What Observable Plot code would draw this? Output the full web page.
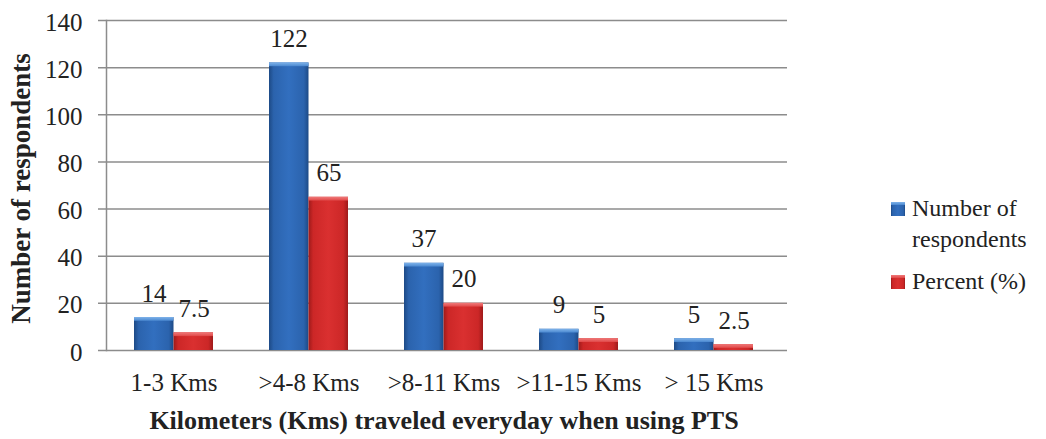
<!DOCTYPE html>
<html><head><meta charset="utf-8">
<script src="https://cdn.jsdelivr.net/npm/d3@7"></script>
<script src="https://cdn.jsdelivr.net/npm/@observablehq/plot@0.6"></script>
<style>
body{margin:0;background:#fff;}
#wrap{position:relative;width:1046px;height:439px;overflow:hidden;}
#legend{position:absolute;left:891px;top:193px;font-family:"Liberation Serif",serif;font-size:24px;color:#222;line-height:31px;}
.li{position:relative;padding-left:21px;}
.sw{position:absolute;left:0;top:9px;width:14px;height:14px;}
</style></head><body><div id="wrap"></div>
<script>
const categories = ["1-3 Kms", ">4-8 Kms", ">8-11 Kms", ">11-15 Kms", "> 15 Kms"];
const respondents = [14, 122, 37, 9, 5];
const percent = [7.5, 65, 20, 5, 2.5];
const yTicks = [0, 20, 40, 60, 80, 100, 120, 140];
const seriesNames = ["Number of respondents", "Percent (%)"];
const xTitle = "Kilometers (Kms) traveled everyday when using PTS";
const yTitle = "Number of respondents";

const rows = categories.map((c, i) => ({category: c, respondents: respondents[i], percent: percent[i]}));
const font = '"Liberation Serif", serif';

const plot = Plot.plot({
  width: 1046, height: 439,
  marginLeft: 106, marginRight: 265, marginTop: 20, marginBottom: 89,
  style: {fontFamily: font, fontSize: "25px", color: "#222", background: "white", overflow: "visible"},
  x: {domain: categories, paddingInner: 0.415, paddingOuter: 0.2075},
  y: {domain: [0, 140]},
  marks: [
    Plot.ruleY(yTicks, {stroke: "#8c8c8c", strokeWidth: 1.5, insetLeft: -8, insetRight: -6}),
    Plot.frame({anchor: "left", stroke: "#8c8c8c", strokeWidth: 1.5}),
    Plot.axisX({tickSize: 0, tickPadding: 23, label: null, fontSize: 25, fontFamily: font}),
    Plot.axisY({ticks: yTicks, tickSize: 0, tickPadding: 24, label: null, fontSize: 25, fontFamily: font, dy: 2}),
    Plot.text([xTitle], {frameAnchor: "bottom", dy: 78, fontWeight: "bold", fontSize: 26, lineAnchor: "bottom", fill: "#222", fontFamily: font}),
    Plot.text([yTitle], {frameAnchor: "left", dx: -85, dy: 3, rotate: -90, textAnchor: "middle", lineAnchor: "middle", fontWeight: "bold", fontSize: 27, fill: "#222", fontFamily: font}),
    Plot.barY(rows, {x: "category", y: "respondents", fill: "url(#gBlue)", insetRight: 39.5, insetLeft: 0}),
    Plot.barY(rows, {x: "category", y: "percent", fill: "url(#gRed)", insetLeft: 39.5, insetRight: 0}),
    Plot.barY(rows, {x: "category", y1: "respondents", y2: d => d.respondents - 1.6, fill: "url(#gBlueTop)", insetRight: 39.5}),
    Plot.barY(rows, {x: "category", y1: "percent", y2: d => d.percent - 1.6, fill: "url(#gRedTop)", insetLeft: 39.5}),
    Plot.text(rows, {x: "category", y: "respondents", text: d => String(d.respondents), dx: -20, dy: -16, lineAnchor: "bottom", fill: "#222", fontSize: 25, fontFamily: font}),
    Plot.text(rows, {x: "category", y: "percent", text: d => String(d.percent), dx: 20, dy: -16, lineAnchor: "bottom", fill: "#222", fontSize: 25, fontFamily: font})
  ]
});

const defs = `<defs>
<linearGradient id="gBlue" x1="0" x2="1" y1="0" y2="0">
<stop offset="0" stop-color="#1d4a86"/><stop offset="0.12" stop-color="#2b63ad"/><stop offset="0.5" stop-color="#326fbf"/><stop offset="0.88" stop-color="#2b63ad"/><stop offset="1" stop-color="#1d4a86"/></linearGradient>
<linearGradient id="gRed" x1="0" x2="1" y1="0" y2="0">
<stop offset="0" stop-color="#9e1a1a"/><stop offset="0.12" stop-color="#cc2727"/><stop offset="0.5" stop-color="#da3030"/><stop offset="0.88" stop-color="#cc2727"/><stop offset="1" stop-color="#9e1a1a"/></linearGradient>
<linearGradient id="gBlueTop" x1="0" x2="0" y1="0" y2="1"><stop offset="0" stop-color="#7fb3ea"/><stop offset="1" stop-color="#4a88d0"/></linearGradient>
<linearGradient id="gRedTop" x1="0" x2="0" y1="0" y2="1"><stop offset="0" stop-color="#f07a7a"/><stop offset="1" stop-color="#e04848"/></linearGradient>
</defs>`;
plot.insertAdjacentHTML("afterbegin", defs);

const wrap = document.getElementById("wrap");
wrap.appendChild(plot);

const legend = document.createElement("div");
legend.id = "legend";
legend.innerHTML = `
<div class="li"><svg class="sw" viewBox="0 0 14 14"><rect width="14" height="14" fill="url(#gBlue)"/><rect width="14" height="3" fill="url(#gBlueTop)"/></svg>${seriesNames[0].replace(" respondents", "<br>respondents")}</div>
<div class="li" style="margin-top:11px"><svg class="sw" viewBox="0 0 14 14"><rect width="14" height="14" fill="url(#gRed)"/><rect width="14" height="3" fill="url(#gRedTop)"/></svg>${seriesNames[1]}</div>`;
wrap.appendChild(legend);
</script>
</body></html>
